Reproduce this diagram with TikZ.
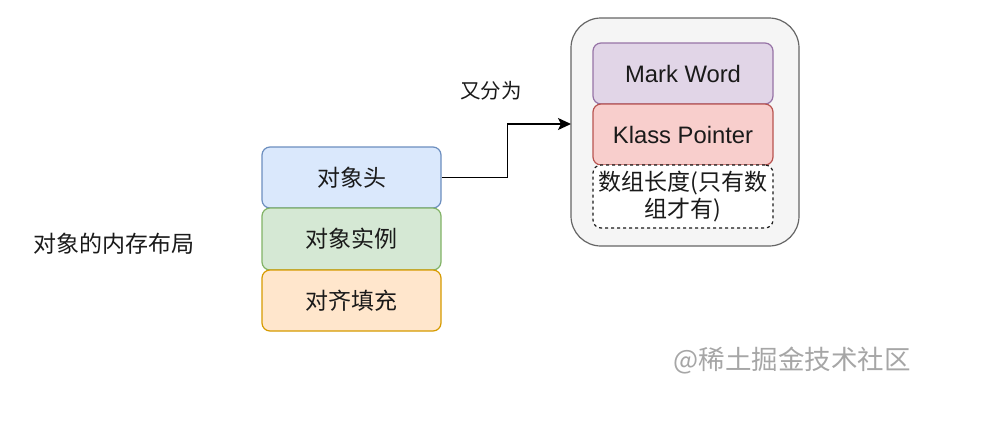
\documentclass[tikz,border=0pt]{standalone}
\usepackage{fontspec}
\setmainfont{Liberation Sans}
\newfontfamily\cjk{Noto Sans CJK SC}
\usetikzlibrary{arrows.meta}
\definecolor{blueF}{HTML}{DAE8FC}\definecolor{blueS}{HTML}{6C8EBF}
\definecolor{greenF}{HTML}{D5E8D4}\definecolor{greenS}{HTML}{82B366}
\definecolor{orangeF}{HTML}{FFE6CC}\definecolor{orangeS}{HTML}{D79B00}
\definecolor{purpleF}{HTML}{E1D5E7}\definecolor{purpleS}{HTML}{9673A6}
\definecolor{redF}{HTML}{F8CECC}\definecolor{redS}{HTML}{B85450}
\definecolor{grayF}{HTML}{F5F5F5}\definecolor{grayS}{HTML}{666666}
\definecolor{txt}{HTML}{1A1A1A}
\tikzset{
  box/.style={draw, line width=1.2pt, rounded corners=8pt, minimum width=179pt, inner sep=0pt,
    align=center, text=txt, font=\fontsize{23.8}{27}\selectfont},
  cjkbox/.style={box, font=\cjk\fontsize{23}{27}\selectfont},
  lbl/.style={text=txt, inner sep=0pt},
}
\begin{document}
\begin{tikzpicture}[x=1pt,y=-1pt]
\useasboundingbox[fill=white] (0,0) rectangle (1001,421);
\node[lbl, font=\cjk\fontsize{23}{27}\selectfont] (title) at (114,244) {对象的内存布局};
\node[cjkbox, fill=blueF, draw=blueS, minimum height=61pt] (h) at (351.5,177.5) {对象头};
\node[cjkbox, fill=greenF, draw=greenS, minimum height=62pt] (inst) at (351.5,239) {对象实例};
\node[cjkbox, fill=orangeF, draw=orangeS, minimum height=61pt] (pad) at (351.5,300.5) {对齐填充};
\node[draw=grayS, fill=grayF, line width=1.2pt, rounded corners=30pt, minimum width=228pt, minimum height=228pt] (c) at (685,132) {};
\node[box, fill=purpleF, draw=purpleS, minimum width=180pt, minimum height=61pt] (mw) at (683,73.5) {Mark Word};
\node[box, fill=redF, draw=redS, minimum width=180pt, minimum height=61pt] (kp) at (683,134.5) {Klass Pointer};
\node[cjkbox, fill=white, draw=txt, dashed, minimum width=180pt, minimum height=63pt] (arr) at (683,196.5) {数组长度(只有数\\组才有)};
\node[lbl, font=\cjk\fontsize{20.5}{24}\selectfont] (split) at (491,91) {又分为};
\coordinate (tip) at (571,124);
\draw[line width=1.4pt, -{Stealth[length=13pt,width=12pt,inset=3pt]}] (h.east) -- ++(66,0) |- (tip);
\node[lbl, text=black!35, font=\cjk\fontsize{26.5}{30}\selectfont] (wm) at (792,361) {@稀土掘金技术社区};
\end{tikzpicture}
\end{document}
